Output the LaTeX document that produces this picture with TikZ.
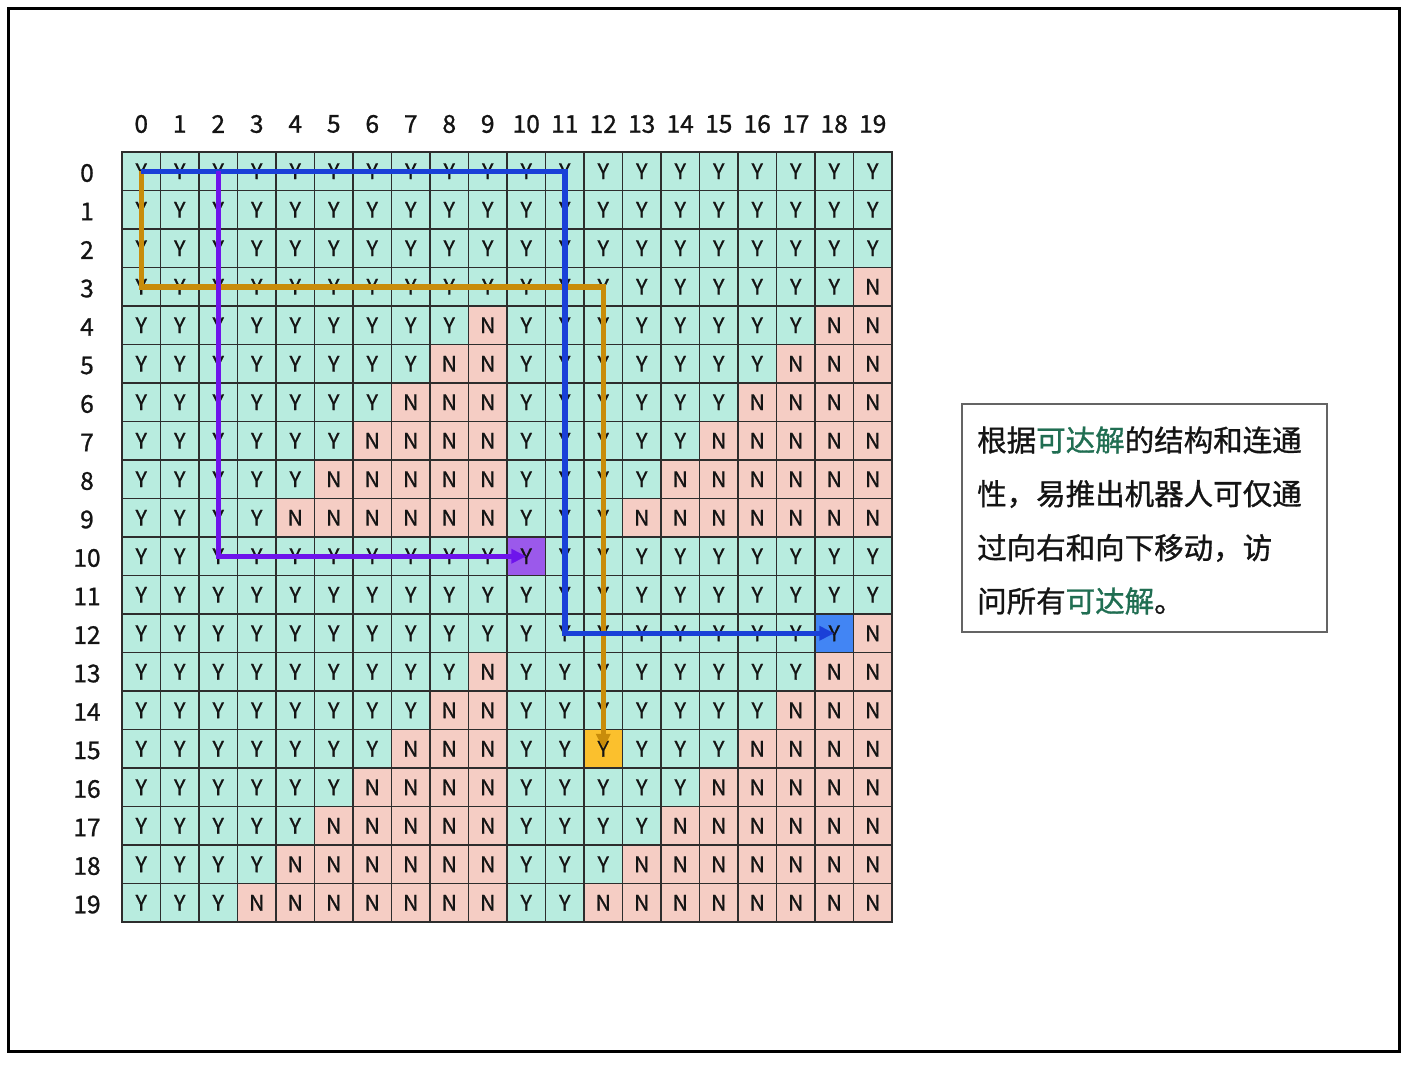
\documentclass[tikz,border=0pt]{standalone}
\usepackage{fontspec}
\setmainfont{Noto Sans CJK SC}[FakeBold=1.0]
\usetikzlibrary{arrows.meta}
\definecolor{mintc}{RGB}{184,236,223}
\definecolor{pinkc}{RGB}{245,205,196}
\definecolor{purplec}{RGB}{155,89,235}
\definecolor{bluec}{RGB}{66,133,244}
\definecolor{orangec}{RGB}{251,192,45}
\definecolor{bluepath}{RGB}{26,64,216}
\definecolor{orangepath}{RGB}{200,140,10}
\definecolor{purplepath}{RGB}{110,20,235}
\definecolor{greenc}{RGB}{32,110,82}
\definecolor{gridc}{RGB}{45,45,45}
\definecolor{textc}{RGB}{20,20,20}
\definecolor{boxc}{RGB}{100,100,100}
\begin{document}
\begin{tikzpicture}[x=1pt,y=-1pt,
  cellbox/.style={draw=gridc, line width=1.2pt, minimum size=38.5pt, inner sep=0pt, outer sep=0pt, text=textc, font=\fontsize{21.5}{24}\selectfont},
  axislabel/.style={inner sep=0pt, text=textc, font=\fontsize{24.5}{28}\selectfont},
  pathline/.style={line width=5.5pt, -{Triangle[length=15pt,width=14pt]}},
  noteline/.style={anchor=west, inner sep=0pt, text=textc, font=\fontsize{29.5}{34}\selectfont}]
\useasboundingbox (0,0) rectangle (1410,1066);
\draw[line width=3pt] (8,8) rectangle (1399,1051);
\foreach \r in {0,...,19}{
  \foreach \c in {0,...,19}{
    \pgfmathtruncatemacro{\s}{int(\r/10)+mod(\r,10)+int(\c/10)+mod(\c,10)}
    \ifnum\s>12 \def\cellcol{pinkc}\def\celltxt{N}\else\def\cellcol{mintc}\def\celltxt{Y}\fi
    \ifnum\r=10 \ifnum\c=10 \def\cellcol{purplec}\fi\fi
    \ifnum\r=12 \ifnum\c=18 \def\cellcol{bluec}\fi\fi
    \ifnum\r=15 \ifnum\c=12 \def\cellcol{orangec}\fi\fi
    \node[cellbox, fill=\cellcol] (c-\r-\c) at ({141.25+38.5*\c},{171.25+38.5*\r}) {\celltxt};
  }
}
\draw[gridc, line width=2pt] (c-0-0.north west) rectangle (c-19-19.south east);
\foreach \c in {0,...,19}{
  \node[axislabel] (col-\c) at ({141.25+38.5*\c},124) {\c};
}
\foreach \r in {0,...,19}{
  \node[axislabel] (row-\r) at (87,{173+38.5*\r}) {\r};
}
\draw[pathline, orangepath] (c-0-0.center) -- (c-3-0.center) -- (c-3-12.center) -- (c-15-12.center);
\draw[pathline, bluepath] (c-0-0.center) -- (c-0-11.center) -- (c-12-11.center) -- (c-12-18.center);
\draw[pathline, purplepath] (c-0-2.center) -- (c-10-2.center) -- (c-10-10.center);
\node[draw=boxc, line width=1.5pt, minimum width=365pt, minimum height=228pt, inner sep=0pt] (note) at (1144.5,518) {};
\node[noteline] (l1) at (977,440) {根据\textcolor{greenc}{可达解}的结构和连通};
\node[noteline] (l2) at (977,494) {性，易推出机器人可仅通};
\node[noteline] (l3) at (977,548) {过向右和向下移动，访};
\node[noteline] (l4) at (977,601) {问所有\textcolor{greenc}{可达解}。};
\end{tikzpicture}
\end{document}
